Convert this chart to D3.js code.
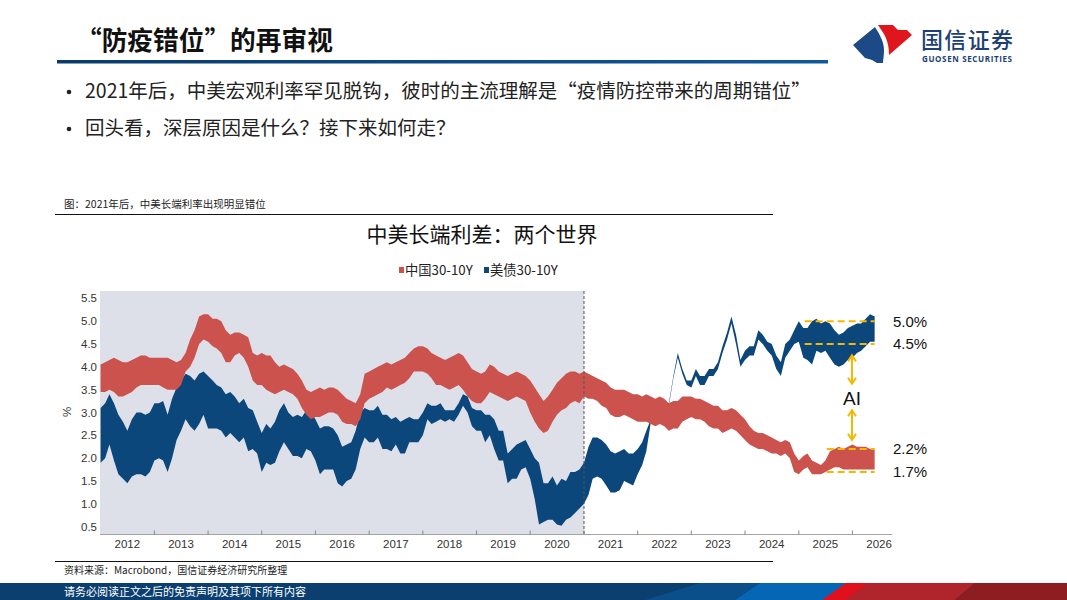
<!DOCTYPE html>
<html>
<head>
<meta charset="utf-8">
<script src="https://cdn.jsdelivr.net/npm/d3@7"></script>
<style>
  body { margin: 0; background: #fff; }
  svg { display: block; font-family: "Noto Sans CJK SC", "Noto Sans", sans-serif; }
</style>
</head>
<body>
<svg width="1067" height="600"></svg>
<script>
// monthly envelope of the 10Y..30Y band, 2012-01 .. 2026-06
const cnHigh = [
  4.05,4.1,4.15,4.2,4.15,4.1,4.1,4.15,4.2,4.25,4.25,4.2,
  4.2,4.2,4.2,4.2,4.15,4.1,4.15,4.3,4.6,4.8,5.1,5.15,
  5.15,5.05,5.05,5.0,4.8,4.7,4.75,4.75,4.7,4.65,4.3,4.25,
  4.3,4.25,4.25,4.1,4.0,4.05,4.0,3.95,3.85,3.7,3.5,3.45,
  3.5,3.55,3.5,3.55,3.55,3.5,3.4,3.3,3.25,3.2,3.4,3.85,
  3.9,3.95,4.0,4.05,4.1,4.05,4.1,4.15,4.2,4.3,4.4,4.45,
  4.45,4.4,4.3,4.25,4.2,4.15,4.2,4.25,4.3,4.25,4.1,3.95,
  3.9,3.85,3.9,4.05,4.0,3.9,3.85,3.8,3.85,3.9,3.85,3.8,
  3.7,3.55,3.4,3.25,3.35,3.5,3.65,3.75,3.85,3.9,3.9,3.85,
  3.9,3.85,3.8,3.75,3.7,3.65,3.55,3.5,3.5,3.5,3.45,3.4,
  3.4,3.35,3.4,3.35,3.3,3.35,3.3,3.2,3.25,3.25,3.35,3.35,
  3.35,3.3,3.3,3.25,3.2,3.15,3.15,3.05,3.05,3.1,3.05,2.95,
  2.85,2.7,2.6,2.55,2.55,2.5,2.45,2.4,2.35,2.4,2.35,2.1,
  1.95,2.05,2.1,1.95,1.9,1.85,1.95,2.15,2.2,2.25,2.2,2.25,
  2.3,2.25,2.25,2.25,2.2,2.2
];
const cnLow = [
  3.45,3.45,3.5,3.45,3.35,3.35,3.4,3.45,3.55,3.6,3.6,3.6,
  3.6,3.6,3.55,3.5,3.5,3.5,3.6,3.9,4.0,4.2,4.5,4.6,
  4.55,4.45,4.4,4.3,4.1,4.1,4.25,4.3,4.2,4.0,3.7,3.6,
  3.6,3.5,3.45,3.4,3.45,3.5,3.45,3.4,3.3,3.1,2.95,2.85,
  2.9,2.9,2.95,3.0,3.0,2.95,2.8,2.75,2.75,2.7,2.85,3.2,
  3.3,3.35,3.4,3.45,3.55,3.5,3.55,3.6,3.65,3.75,3.9,3.9,
  3.9,3.85,3.75,3.6,3.6,3.55,3.5,3.55,3.6,3.5,3.35,3.25,
  3.2,3.2,3.3,3.45,3.4,3.35,3.3,3.25,3.3,3.35,3.3,3.25,
  3.0,2.8,2.65,2.55,2.6,2.8,2.95,3.05,3.1,3.2,3.25,3.2,
  3.35,3.3,3.3,3.25,3.15,3.1,2.95,2.9,2.9,2.95,2.9,2.85,
  2.8,2.8,2.8,2.75,2.7,2.75,2.7,2.6,2.65,2.65,2.8,2.85,
  2.9,2.85,2.85,2.8,2.7,2.65,2.65,2.55,2.6,2.65,2.6,2.5,
  2.4,2.3,2.25,2.2,2.2,2.15,2.1,2.1,2.05,2.1,2.0,1.7,
  1.65,1.75,1.8,1.65,1.65,1.65,1.7,1.75,1.8,1.8,1.75,1.75,
  1.75,1.75,1.75,1.75,1.75,1.75
];
const usHigh = [
  3.1,3.2,3.4,3.2,2.95,2.8,2.6,2.85,3.0,3.0,2.95,3.0,
  3.2,3.2,3.25,2.95,3.3,3.55,3.7,3.85,3.8,3.7,3.85,3.9,
  3.8,3.7,3.6,3.55,3.4,3.45,3.35,3.2,3.3,3.1,3.05,2.8,
  2.55,2.75,2.65,2.8,3.05,3.2,3.0,2.9,2.95,2.9,3.05,3.0,
  2.85,2.65,2.7,2.7,2.65,2.5,2.25,2.3,2.35,2.6,3.0,3.1,
  3.05,3.05,3.15,2.95,2.95,2.85,2.9,2.8,2.85,2.9,2.85,2.85,
  3.0,3.2,3.15,3.15,3.2,3.05,3.05,3.05,3.2,3.4,3.35,3.1,
  3.05,3.05,2.95,2.95,2.85,2.6,2.6,2.1,2.2,2.3,2.35,2.4,
  2.2,2.0,1.9,1.45,1.45,1.6,1.4,1.55,1.5,1.7,1.7,1.75,
  1.9,2.25,2.45,2.45,2.4,2.3,2.15,2.1,2.15,2.2,2.1,2.1,
  2.2,2.35,2.6,2.85,2.95,3.25,2.95,3.2,3.8,4.3,3.95,3.7,
  3.7,3.95,3.8,3.8,3.95,3.95,4.1,4.45,4.75,5.1,4.7,4.15,
  4.35,4.45,4.45,4.8,4.7,4.55,4.5,4.25,4.1,4.5,4.6,4.8,
  5.0,4.85,4.85,5.0,5.05,4.95,5.0,4.95,4.8,4.7,4.75,4.85,
  4.9,4.95,4.95,5.05,5.15,5.1
];
const usLow = [
  1.9,2.0,2.3,1.95,1.65,1.55,1.45,1.6,1.65,1.65,1.6,1.7,
  1.95,2.0,1.95,1.7,2.0,2.4,2.6,2.85,2.7,2.6,2.75,2.95,
  2.65,2.65,2.65,2.6,2.45,2.55,2.45,2.35,2.45,2.15,2.2,2.1,
  1.7,1.9,1.85,1.9,2.15,2.35,2.2,2.05,2.05,2.0,2.2,2.15,
  1.95,1.65,1.75,1.75,1.75,1.45,1.38,1.5,1.55,1.75,2.2,2.45,
  2.35,2.35,2.45,2.2,2.2,2.15,2.3,2.1,2.1,2.35,2.35,2.35,
  2.5,2.85,2.75,2.8,2.85,2.8,2.85,2.8,2.95,3.15,3.0,2.7,
  2.6,2.6,2.35,2.5,2.2,1.95,1.95,1.45,1.55,1.55,1.75,1.8,
  1.55,1.1,0.55,0.6,0.65,0.65,0.55,0.52,0.65,0.7,0.8,0.9,
  1.0,1.2,1.55,1.6,1.55,1.4,1.25,1.25,1.3,1.5,1.45,1.4,
  1.65,1.85,2.15,2.8,2.9,3.2,2.9,3.15,3.75,4.2,3.85,3.6,
  3.55,3.8,3.6,3.6,3.8,3.8,3.95,4.3,4.6,4.95,4.5,4.0,
  4.15,4.25,4.25,4.6,4.5,4.35,4.25,3.95,3.8,4.2,4.35,4.5,
  4.55,4.2,4.15,4.05,4.35,4.3,4.35,4.2,4.05,4.0,4.05,4.15,
  4.2,4.3,4.35,4.45,4.55,4.55
];
const seriesNames = ["中国30-10Y", "美债30-10Y"];
const yTicks = [0.5, 1.0, 1.5, 2.0, 2.5, 3.0, 3.5, 4.0, 4.5, 5.0, 5.5];
const yearLabels = d3.range(2012, 2027);
const usLevels = [5.0, 4.5];
const cnLevels = [2.2, 1.7];

const svg = d3.select("svg");
const red = "#cc524e", blue = "#0c477c", gold = "#f5b800";

const months = d3.timeMonth.range(new Date(2012, 0, 1), new Date(2026, 6, 1));
const cn = months.map((d, i) => ({ date: d, hi: cnHigh[i], lo: cnLow[i] }));
const us = months.map((d, i) => ({ date: d, hi: usHigh[i], lo: usLow[i] }));

// ---------- page header ----------
const defs = svg.append("defs");
const hg = defs.append("linearGradient").attr("id", "hdr");
hg.append("stop").attr("offset", "0%").attr("stop-color", "#0a3a6c");
hg.append("stop").attr("offset", "100%").attr("stop-color", "#11579c");
svg.append("rect").attr("x", 57).attr("y", 60).attr("width", 771).attr("height", 3.5).attr("fill", "url(#hdr)");

svg.append("text").attr("x", 76).attr("y", 50)
  .attr("font-size", 25.7).attr("font-weight", 700).attr("fill", "#111")
  .text("“防疫错位”的再审视");

// logo
svg.append("path").attr("fill", "#1b4a86")
  .attr("d", "M853,45 L875,27 C880,35 884,42 884,50 C884,56 883,60 883,63 L877,63 L872,60 L865,58 Z");
svg.append("path").attr("fill", "#e0161f")
  .attr("d", "M878,25 L893,25 L898,30 L907,30 L912,35 L889,55 C889,48 888,42 885,36 C883,32 880,28 878,25 Z");
svg.append("text").attr("x", 921).attr("y", 48).attr("font-size", 22).attr("font-weight", 500)
  .attr("fill", "#1d3f73").attr("textLength", 92).text("国信证券");
svg.append("text").attr("x", 922).attr("y", 62).attr("font-size", 8).attr("font-weight", 700)
  .attr("font-family", "Open Sans, sans-serif")
  .attr("fill", "#1d3f73").attr("textLength", 90).text("GUOSEN SECURITIES");

// bullets
const bullets = [
  "2021年后，中美宏观利率罕见脱钩，彼时的主流理解是“疫情防控带来的周期错位”",
  "回头看，深层原因是什么？接下来如何走？"
];
bullets.forEach((t, i) => {
  const yy = 98 + i * 37;
  svg.append("circle").attr("cx", 69).attr("cy", yy - 6).attr("r", 2.3).attr("fill", "#222");
  svg.append("text").attr("x", 85).attr("y", yy).attr("font-size", 19.5).attr("fill", "#222").text(t);
});

// caption + rules
svg.append("text").attr("x", 64).attr("y", 208).attr("font-size", 10.5).attr("fill", "#222")
  .text("图：2021年后，中美长端利率出现明显错位");
svg.append("line").attr("x1", 55).attr("x2", 773).attr("y1", 214.5).attr("y2", 214.5)
  .attr("stroke", "#111").attr("stroke-width", 1.2);
svg.append("line").attr("x1", 55).attr("x2", 773).attr("y1", 561.5).attr("y2", 561.5)
  .attr("stroke", "#111").attr("stroke-width", 1.2);
svg.append("text").attr("x", 64).attr("y", 574).attr("font-size", 10).attr("fill", "#222")
  .text("资料来源：Macrobond，国信证券经济研究所整理");

// footer band
svg.append("rect").attr("x", 0).attr("y", 583).attr("width", 1067).attr("height", 17).attr("fill", "#0b3f6f");
svg.append("polygon").attr("points", "645,600 700,583 760,583 735,600").attr("fill", "#0a4e8a");
svg.append("polygon").attr("points", "735,600 760,583 850,583 825,600").attr("fill", "#0566b5");
svg.append("polygon").attr("points", "822,600 846,583 870,583 870,600").attr("fill", "#e0101c");
svg.append("polygon").attr("points", "845,600 868,583 975,583 955,600").attr("fill", "#b0242b");
svg.append("polygon").attr("points", "955,600 975,583 1067,583 1067,600").attr("fill", "#8e1d21");
svg.append("text").attr("x", 64).attr("y", 596).attr("font-size", 11).attr("fill", "#fff")
  .text("请务必阅读正文之后的免责声明及其项下所有内容");

// ---------- chart ----------
svg.append("text").attr("x", 482).attr("y", 242).attr("text-anchor", "middle")
  .attr("font-size", 21).attr("fill", "#111").text("中美长端利差：两个世界");

const legend = svg.append("g").attr("font-size", 13.3).attr("fill", "#222");
[[399, red], [484, blue]].forEach(([lx, c], i) => {
  legend.append("rect").attr("x", lx).attr("y", 267).attr("width", 5).attr("height", 6).attr("fill", c);
  legend.append("text").attr("x", lx + 6).attr("y", 275).text(seriesNames[i]);
});

const x = d3.scaleTime()
  .domain([new Date(2012, 0, 1), new Date(2026, 8, 25)])
  .range([100.6, 891.7]);
const y = d3.scaleLinear().domain([0.34, 5.66]).range([534, 291]);

// pre-2021 shading
svg.append("rect").attr("x", 100).attr("y", 291)
  .attr("width", x(new Date(2021, 0, 1)) - 100).attr("height", 534 - 291)
  .attr("fill", "#dde0e8");

const area = d3.area().x(d => x(d.date)).y0(d => y(d.lo)).y1(d => y(d.hi));
svg.append("path").datum(us).attr("d", area).attr("fill", blue);
svg.append("path").datum(cn).attr("d", area).attr("fill", red);

svg.append("line")
  .attr("x1", x(new Date(2021, 0, 1))).attr("x2", x(new Date(2021, 0, 1)))
  .attr("y1", 291).attr("y2", 534)
  .attr("stroke", "#555").attr("stroke-width", 1).attr("stroke-dasharray", "3,2");

// y axis labels
const yAxis = svg.append("g").attr("font-family", "Liberation Sans, Arial, sans-serif")
  .attr("font-size", 11.5).attr("fill", "#333");
yTicks.forEach(v => {
  yAxis.append("text").attr("x", 97).attr("y", y(v)).attr("dy", "0.35em")
    .attr("text-anchor", "end").text(d3.format(".1f")(v));
});
yAxis.append("text").attr("transform", "translate(71,412) rotate(-90)")
  .attr("text-anchor", "middle").text("%");

// x axis
svg.append("line").attr("x1", 100).attr("x2", 892).attr("y1", 534.5).attr("y2", 534.5)
  .attr("stroke", "#a3a3a3");
const xAxis = svg.append("g").attr("font-family", "Liberation Sans, Arial, sans-serif")
  .attr("font-size", 11.5).attr("fill", "#333");
yearLabels.forEach(yr => {
  if (yr > 2012) {
    const tx = x(new Date(yr, 0, 1));
    xAxis.append("line").attr("x1", tx).attr("x2", tx).attr("y1", 530.5).attr("y2", 534.5)
      .attr("stroke", "#888");
  }
  xAxis.append("text").attr("x", x(new Date(yr, 6, 1))).attr("y", 548)
    .attr("text-anchor", "middle").text(yr);
});

// ---------- annotations ----------
const ann = svg.append("g");
const dashLine = (lv, d0, d1) => ann.append("line")
  .attr("x1", x(d0)).attr("x2", x(d1)).attr("y1", y(lv)).attr("y2", y(lv))
  .attr("stroke", gold).attr("stroke-width", 2).attr("stroke-dasharray", "7,4");
usLevels.forEach(lv => dashLine(lv, new Date(2025, 1, 10), new Date(2026, 5, 1)));
cnLevels.forEach(lv => dashLine(lv, new Date(2025, 6, 10), new Date(2026, 5, 1)));

const lblG = svg.append("g").attr("font-family", "Liberation Sans, Arial, sans-serif")
  .attr("font-size", 15).attr("fill", "#111");
usLevels.concat(cnLevels).forEach(lv => {
  lblG.append("text").attr("x", 893).attr("y", y(lv)).attr("dy", "0.36em")
    .text(d3.format(".1f")(lv) + "%");
});

const ax = 852;
const arrow = (ya, yb) => {
  ann.append("line").attr("x1", ax).attr("x2", ax).attr("y1", ya).attr("y2", yb)
    .attr("stroke", gold).attr("stroke-width", 2);
  [[ya, 1], [yb, -1]].forEach(([yy, s]) => {
    ann.append("polyline")
      .attr("points", `${ax - 4},${yy + s * 6} ${ax},${yy} ${ax + 4},${yy + s * 6}`)
      .attr("fill", "none").attr("stroke", gold).attr("stroke-width", 2);
  });
};
arrow(y(4.25), y(3.63));
arrow(y(3.05), y(2.4));
svg.append("text").attr("x", ax).attr("y", 398).attr("dy", "0.36em")
  .attr("text-anchor", "middle").attr("font-family", "Liberation Sans, Arial, sans-serif")
  .attr("font-size", 19).attr("fill", "#111").text("AI");
</script>
</body>
</html>
